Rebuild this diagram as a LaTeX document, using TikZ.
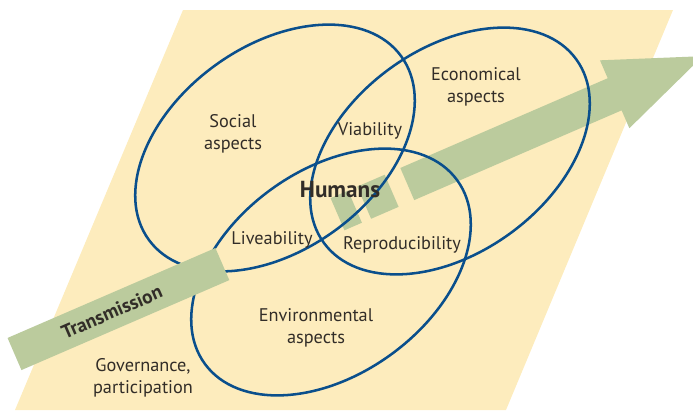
\documentclass[tikz,border=0pt]{standalone}
\usepackage{fontspec}
\setmainfont{PT Sans}
\usetikzlibrary{shapes.geometric}
\definecolor{plane}{HTML}{FDECBD}
\definecolor{flow}{HTML}{BBCB9D}
\definecolor{venn}{HTML}{0A4F8C}
\definecolor{ink}{HTML}{322D28}
\begin{document}
\begin{tikzpicture}[x=0.025cm, y=-0.025cm,
	aspect/.style={ellipse, draw=venn, line width=1.8pt, minimum width=7.8cm, minimum height=5.1cm, rotate=36},
	area/.style={text=ink, align=center, inner sep=0pt, font=\fontsize{13}{15.6}\selectfont}]
	\useasboundingbox (0,0) rectangle (693,410);
	\fill[plane] (183,10) -- (673,10) -- (506,410) -- (15,410) -- cycle;
	\begin{scope}[shift={(14.5,354)}, rotate=23.4]
		\fill[flow] (352,-17.5) -- (371,-17.5) -- (371,17.5) -- (352,17.5) -- cycle;
		\fill[flow] (381,-17.5) -- (411,-17.5) -- (411,17.5) -- (381,17.5) -- cycle;
		\fill[flow] (428,-17.5) -- (654,-17.5) -- (654,-37) -- (750,0) -- (654,37) -- (654,17.5) -- (428,17.5) -- cycle;
	\end{scope}
	\node (Soc) at (275,148)	[aspect]	{};
	\node (Eco) at (450,151)	[aspect]	{};
	\node (Env) at (331,272)	[aspect]	{};
	\begin{scope}[shift={(14.5,354)}, rotate=23.4]
		\fill[flow] (0,-17.5) -- (226.5,-17.5) -- (226.5,17.5) -- (0,17.5) -- cycle;
		\node (trans) at (106,0)	[transform shape, text=ink, font=\fontsize{13.8}{15.6}\selectfont\bfseries]	{Transmission};
	\end{scope}
	\node (tSoc) at (233,134)	[area]	{Social\\aspects};
	\node (tEco) at (476,87)	[area]	{Economical\\aspects};
	\node (tEnv) at (316,328)	[area]	{Environmental\\aspects};
	\node (tVia) at (370,131)	[area]	{Viability};
	\node (tLiv) at (272,240)	[area]	{Liveability};
	\node (tRep) at (402,245)	[area]	{Reproducibility};
	\node (tHum) at (340,190)	[area, font=\fontsize{16.5}{18}\selectfont\bfseries]	{Humans};
	\node (tGov) at (143,378)	[area]	{Governance,\\participation};
\end{tikzpicture}
\end{document}
